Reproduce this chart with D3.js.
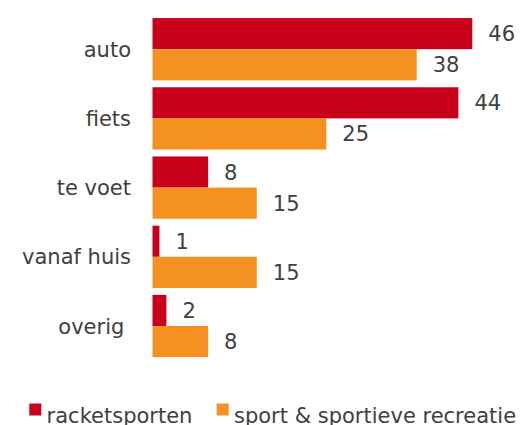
<!DOCTYPE html>
<html>
<head>
<meta charset="utf-8">
<script src="https://cdn.jsdelivr.net/npm/d3@7"></script>
<style>
  html, body { margin: 0; padding: 0; background: #fff; }
  svg { display: block; }
  text { font-family: "DejaVu Sans", Verdana, sans-serif; fill: #404040; }
</style>
</head>
<body>
<svg id="chart" width="521" height="425"></svg>
<script>
// Vervoerswijze naar sportlocatie (%)
const categories = ["auto", "fiets", "te voet", "vanaf huis", "overig "];
const seriesNames = ["racketsporten", "sport & sportieve recreatie"];
const racketsporten = [46, 44, 8, 1, 2];
const sportRecreatie = [38, 25, 15, 15, 8];
const colors = ["#c8001a", "#f59120"];

const series = [racketsporten, sportRecreatie];
const rows = categories.map((c, i) => ({ cat: c, values: series.map(s => s[i]) }));
const fontSize = 21;

const svg = d3.select("#chart");

const x = d3.scaleLinear().domain([0, 46]).range([152.5, 472.3]);
const y = d3.scaleBand().domain(categories).range([14.6, 360.6])
  .paddingInner(0.1).paddingOuter(0.05);
const ySub = d3.scaleBand().domain(d3.range(series.length)).range([0, y.bandwidth()]);

const groups = svg.selectAll("g.group").data(rows).join("g")
  .attr("class", "group")
  .attr("transform", d => `translate(0,${y(d.cat)})`);

groups.selectAll("rect").data(d => d.values).join("rect")
  .attr("x", x(0))
  .attr("y", (v, j) => ySub(j))
  .attr("width", v => x(v) - x(0))
  .attr("height", ySub.bandwidth())
  .attr("fill", (v, j) => colors[j]);

groups.selectAll("text.val").data(d => d.values).join("text")
  .attr("class", "val")
  .attr("x", v => x(v) + 16)
  .attr("y", (v, j) => ySub(j) + ySub.bandwidth() / 2 + 7.5)
  .attr("font-size", fontSize)
  .text(v => v);

// category axis labels
svg.selectAll("text.cat").data(categories).join("text")
  .attr("class", "cat")
  .attr("x", 131)
  .attr("y", d => y(d) + y.bandwidth() / 2 + 7.5)
  .attr("text-anchor", "end")
  .attr("font-size", fontSize)
  .style("white-space", "pre")
  .text(d => d);

// legend
const legendX = [29.3, 216.7];
const legend = svg.selectAll("g.legend").data(seriesNames).join("g")
  .attr("class", "legend")
  .attr("transform", (d, i) => `translate(${legendX[i]},403.5)`);
legend.append("rect")
  .attr("width", 12).attr("height", 12)
  .attr("fill", (d, i) => colors[i]);
legend.append("text")
  .attr("x", 17.3).attr("y", 19.5)
  .attr("font-size", fontSize)
  .text(d => d);
</script>
</body>
</html>
